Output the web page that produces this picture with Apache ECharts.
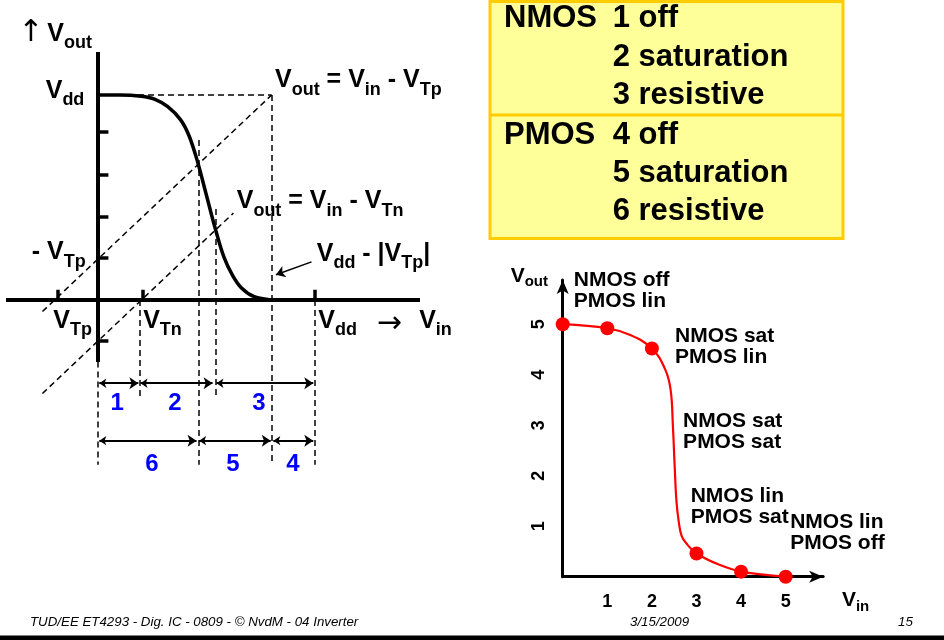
<!DOCTYPE html>
<html><head><meta charset="utf-8">
<script src="https://cdn.jsdelivr.net/npm/echarts@6/dist/echarts.min.js"></script>
<style>html,body{margin:0;padding:0;background:#fff}#c{width:944px;height:640px}</style>
</head><body><div id="c"></div>
<script>
// ---------- data: left, idealised voltage transfer characteristic ----------
const vtcVin  = [0, 0.5, 1, 1.3, 1.6, 1.9, 2.1, 2.3, 2.5, 2.7, 2.9, 3.1, 3.3, 3.6, 4];
const vtcVout = [5, 5, 4.97, 4.9, 4.72, 4.4, 4.0, 3.35, 2.55, 1.75, 1.05, 0.6, 0.3, 0.08, 0];
const VDD = 5, VTN = 1, VTP = -1;
const yTicks = [4.1, 3.05, 2.02, 1.02, -1.0];
const xTicks = [-0.92, 1.04, 5];
const row1Ranges = [[0.03, 0.93], [0.98, 2.64], [2.73, 4.96]];
const row1Labels = ['1', '2', '3'];
const row1LabelX = [0.44, 1.77, 3.71];
const row2Ranges = [[0.03, 2.27], [2.33, 3.98], [4.04, 4.96]];
const row2Labels = ['6', '5', '4'];
const row2LabelX = [1.24, 3.11, 4.49];
// ---------- data: right, simulated transfer curve ----------
const simVin  = [0, 1, 1.5, 2, 2.3, 2.42, 2.47, 2.51, 2.55, 2.6, 2.67, 2.8, 3, 3.5, 4, 5];
const simVout = [5, 4.92, 4.79, 4.52, 4.1, 3.7, 3.0, 2.2, 1.5, 1.1, 0.8, 0.63, 0.46, 0.24, 0.1, 0];
const simPtVin  = [0, 1, 2, 3, 4, 5];
const simPtVout = [5, 4.92, 4.52, 0.46, 0.1, 0];
const simAxisTicks = [1, 2, 3, 4, 5];
const regionText = ['NMOS off\nPMOS lin', 'NMOS sat\nPMOS lin', 'NMOS sat\nPMOS sat', 'NMOS lin\nPMOS sat', 'NMOS lin\nPMOS off'];
// ---------- legend table ----------
const tableHead = ['NMOS', 'PMOS'];
const tableItems = [['1 off', '2 saturation', '3 resistive'], ['4 off', '5 saturation', '6 resistive']];
const footerLeft = 'TUD/EE ET4293 - Dig. IC - 0809 - \u00A9 NvdM - 04 Inverter';
const footerDate = '3/15/2009';
const footerPage = '15';

const F = '"Liberation Sans", Arial, Helvetica, sans-serif';
const chart = echarts.init(document.getElementById('c'), null, {renderer: 'canvas'});

function seg(x1, y1, x2, y2) { return {coords: [[x1, y1], [x2, y2]]}; }
const zip = (a, b) => a.map((v, i) => [v, b[i]]);

const noBorder = {textBorderWidth: 0, textBorderColor: 'transparent', textShadowBlur: 0, opacity: 1};
const richBig = {
  v: Object.assign({fontSize: 25, fontWeight: 'bold', color: '#000', fontFamily: F}, noBorder),
  s: Object.assign({fontSize: 18, fontWeight: 'bold', color: '#000', fontFamily: F, padding: [19, 0, 0, 0]}, noBorder),
  a: Object.assign({fontSize: 30, fontWeight: 'normal', color: '#000', fontFamily: '"DejaVu Sans", sans-serif'}, noBorder)
};
const richSmall = {
  v: Object.assign({fontSize: 21, fontWeight: 'bold', color: '#000', fontFamily: F}, noBorder),
  s: Object.assign({fontSize: 15, fontWeight: 'bold', color: '#000', fontFamily: F, padding: [12, 0, 0, 0]}, noBorder)
};
function lbl(x, y, text, rich, align) {
  return {value: [x, y], label: Object.assign({show: true, formatter: text, rich: rich, align: align || 'left'}, noBorder)};
}

// solid axes, ticks, dashed helper lines, arrows (left)
const axesSeg = [seg(-2.12, 0, 7.42, 0), seg(0, -1.51, 0, 6.05)];
const tickSeg = yTicks.map(v => seg(0, v, 0.24, v)).concat(xTicks.map(v => seg(v, 0, v, 0.25)));
const dashSeg = [
  seg(-1.28, -1.28 - VTP, VDD + VTP, VDD),       // Vout = Vin - VTp
  seg(-1.28, -1.28 - VTN, 3.12, 3.12 - VTN),     // Vout = Vin - VTn
  seg(0, VDD, VDD + VTP, VDD),
  seg(VDD + VTP, VDD, VDD + VTP, -4.02),
  seg(2.31, 3.9, 2.31, -4.02),
  seg(2.72, 2.22, 2.72, -2.39),
  seg(0.97, 0, 0.97, -2.44),
  seg(0, -1.5, 0, -4.02),
  seg(VDD, 0, VDD, -4.02)
];
const arrowSeg = row1Ranges.map(r => seg(r[0], -2.03, r[1], -2.03))
  .concat(row2Ranges.map(r => seg(r[0], -3.43, r[1], -3.43)));

const leftLabels = [
  lbl(-1.84, 6.50, '{a|\u2191}', richBig),
  lbl(-1.17, 6.49, '{v|V}{s|out}', richBig),
  lbl(-1.205, 5.10, '{v|V}{s|dd}', richBig),
  lbl(4.078, 5.36, '{v|V}{s|out}{v| = V}{s|in}{v| - V}{s|Tp}', richBig),
  lbl(3.196, 2.40, '{v|V}{s|out}{v| = V}{s|in}{v| - V}{s|Tn}', richBig),
  lbl(-1.528, 1.16, '{v|- V}{s|Tp}', richBig),
  lbl(5.04, 1.13, '{v|V}{s|dd}{v| - |V}{s|Tp}{v||}', richBig),
  lbl(-1.03, -0.51, '{v|V}{s|Tp}', richBig),
  lbl(1.04, -0.51, '{v|V}{s|Tn}', richBig),
  lbl(5.076, -0.51, '{v|V}{s|dd}', richBig),
  lbl(6.42, -0.58, '{a|\u2192}', richBig),
  lbl(7.40, -0.51, '{v|V}{s|in}', richBig)
];
const blueLabels = row1Labels.map((t, i) => ({value: [row1LabelX[i], -2.52], label: {formatter: t}}))
  .concat(row2Labels.map((t, i) => ({value: [row2LabelX[i], -4.02], label: {formatter: t}})));

const regionPos = [[0.25, 5.66], [2.52, 4.55], [2.70, 2.88], [2.87, 1.39], [5.10, 0.88]];
const rightLabels = regionText.map((t, i) => ({value: regionPos[i], label: {show: true, formatter: t}}));
const rightAxisLabels = [
  lbl(-1.166, 5.96, '{v|V}{s|out}', richSmall),
  lbl(6.26, -0.47, '{v|V}{s|in}', richSmall)
];

const graphics = [
  {type: 'rect', shape: {x: 490, y: 1.5, width: 353, height: 237}, style: {fill: '#FFFF99', stroke: '#FFCC00', lineWidth: 3}},
  {type: 'line', shape: {x1: 490, y1: 115, x2: 843, y2: 115}, style: {stroke: '#FFCC00', lineWidth: 3}}
];
const rowY = [[18.5, 57, 95.5], [135, 173, 211.5]];
tableHead.forEach((h, g) => {
  graphics.push({type: 'text', style: {text: h, x: 504, y: rowY[g][0], font: 'bold 31px ' + F, fill: '#000', verticalAlign: 'middle'}});
  tableItems[g].forEach((t, k) => {
    graphics.push({type: 'text', style: {text: t, x: 612.7, y: rowY[g][k], font: 'bold 31px ' + F, fill: '#000', verticalAlign: 'middle'}});
  });
});
const footFont = 'italic 13.3px ' + F;
graphics.push({type: 'text', style: {text: footerLeft, x: 30, y: 622, font: footFont, fill: '#000', verticalAlign: 'middle'}});
graphics.push({type: 'text', style: {text: footerDate, x: 630, y: 622, font: footFont, fill: '#000', verticalAlign: 'middle'}});
graphics.push({type: 'text', style: {text: footerPage, x: 898, y: 622, font: footFont, fill: '#000', verticalAlign: 'middle'}});
graphics.push({type: 'rect', shape: {x: 0, y: 635.5, width: 944, height: 4.5}, style: {fill: '#000'}});

const hidden = {show: false};
const solid = {opacity: 1};
const option = {
  animation: false,
  backgroundColor: '#fff',
  graphic: graphics,
  grid: [
    {left: 98 - 2.15 * 43.4, top: 300 - 6.1 * 41, width: 9.6 * 43.4, height: 10.2 * 41},
    {left: 562.7, top: 280, width: 5.84 * 44.6, height: 5.875 * 50.5}
  ],
  xAxis: [
    {gridIndex: 0, type: 'value', min: -2.15, max: 7.45, show: false},
    {gridIndex: 1, type: 'value', min: 0, max: 5.84, interval: 1,
      axisLine: {show: true, onZero: false, symbol: ['none', 'arrow'], symbolSize: [9, 14], lineStyle: {color: '#000', width: 3}},
      axisTick: hidden, splitLine: hidden,
      axisLabel: {customValues: simAxisTicks, margin: 16, fontSize: 18, fontWeight: 'bold', color: '#000', fontFamily: F}}
  ],
  yAxis: [
    {gridIndex: 0, type: 'value', min: -4.1, max: 6.1, show: false},
    {gridIndex: 1, type: 'value', min: 0, max: 5.875, interval: 1,
      axisLine: {show: true, onZero: false, symbol: ['none', 'arrow'], symbolSize: [9, 14], lineStyle: {color: '#000', width: 3}},
      axisTick: hidden, splitLine: hidden,
      axisLabel: {customValues: simAxisTicks, rotate: 90, margin: 15, fontSize: 18, fontWeight: 'bold', color: '#000', fontFamily: F}}
  ],
  series: [
    {type: 'lines', coordinateSystem: 'cartesian2d', xAxisIndex: 0, yAxisIndex: 0, data: axesSeg,
      lineStyle: {color: '#000', width: 4, opacity: 1}, symbol: 'none', z: 5},
    {type: 'lines', coordinateSystem: 'cartesian2d', xAxisIndex: 0, yAxisIndex: 0, data: tickSeg,
      lineStyle: {color: '#000', width: 3.5, opacity: 1}, symbol: 'none', z: 5},
    {type: 'lines', coordinateSystem: 'cartesian2d', xAxisIndex: 0, yAxisIndex: 0, data: dashSeg,
      lineStyle: {color: '#000', width: 1.5, type: [6, 4], opacity: 1}, symbol: 'none', z: 3},
    {type: 'lines', coordinateSystem: 'cartesian2d', xAxisIndex: 0, yAxisIndex: 0, data: arrowSeg,
      lineStyle: {color: '#000', width: 2, opacity: 1}, symbol: ['arrow', 'arrow'], symbolSize: [7, 9], z: 4},
    {type: 'lines', coordinateSystem: 'cartesian2d', xAxisIndex: 0, yAxisIndex: 0, data: [seg(4.92, 0.93, 4.1, 0.615)],
      lineStyle: {color: '#000', width: 1.5, opacity: 1}, symbol: ['none', 'arrow'], symbolSize: [7, 9], z: 4},
    {type: 'line', xAxisIndex: 0, yAxisIndex: 0, data: zip(vtcVin, vtcVout), smooth: 0.35,
      showSymbol: false, lineStyle: {color: '#000', width: 3.5}, z: 6},
    {type: 'scatter', xAxisIndex: 0, yAxisIndex: 0, data: leftLabels, symbolSize: 0, clip: false, silent: true, itemStyle: solid,
      label: Object.assign({show: true, position: 'inside', verticalAlign: 'middle'}, noBorder), z: 7},
    {type: 'scatter', xAxisIndex: 0, yAxisIndex: 0, data: blueLabels, symbolSize: 0, clip: false, silent: true, itemStyle: solid,
      label: Object.assign({show: true, position: 'inside', align: 'center', verticalAlign: 'middle', fontSize: 24, fontWeight: 'bold', color: '#0000FF', fontFamily: F}, noBorder), z: 7},
    {type: 'line', xAxisIndex: 1, yAxisIndex: 1, data: zip(simVin, simVout), smooth: 0.4,
      showSymbol: false, lineStyle: {color: '#FF0000', width: 2.2}, z: 6},
    {type: 'scatter', xAxisIndex: 1, yAxisIndex: 1, data: zip(simPtVin, simPtVout), symbol: 'circle', symbolSize: 14,
      itemStyle: {color: '#FF0000', opacity: 1}, clip: false, z: 7},
    {type: 'scatter', xAxisIndex: 1, yAxisIndex: 1, data: rightLabels, symbolSize: 0, clip: false, silent: true, itemStyle: solid,
      label: Object.assign({show: true, position: 'inside', align: 'left', verticalAlign: 'middle', fontSize: 21, lineHeight: 21, fontWeight: 'bold', color: '#000', fontFamily: F}, noBorder), z: 8},
    {type: 'scatter', xAxisIndex: 1, yAxisIndex: 1, data: rightAxisLabels, symbolSize: 0, clip: false, silent: true, itemStyle: solid,
      label: Object.assign({show: true, position: 'inside', verticalAlign: 'middle'}, noBorder), z: 8}
  ]
};
chart.setOption(option);
</script></body></html>
